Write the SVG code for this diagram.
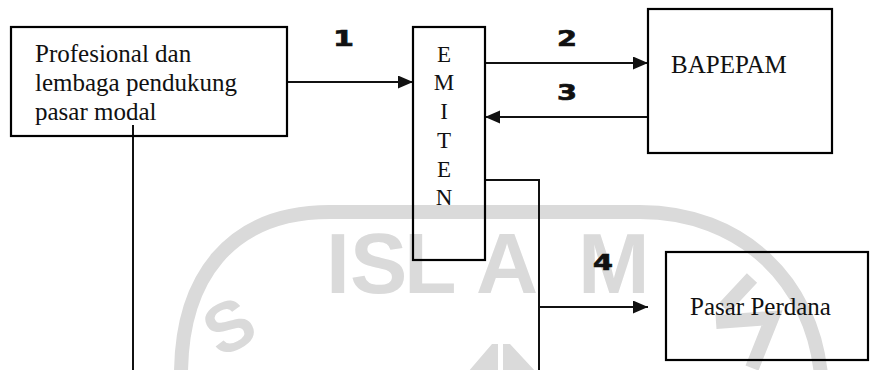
<svg xmlns="http://www.w3.org/2000/svg" width="870" height="370" viewBox="0 0 870 370">
<style>
.box{fill:none;stroke:#000;stroke-width:2.2}
.ln{fill:none;stroke:#111;stroke-width:2}
.t{font-family:"Liberation Serif","Times New Roman",serif;font-size:25px;fill:#111}
.v{font-family:"Liberation Serif","Times New Roman",serif;font-size:23px;fill:#111;text-anchor:middle}
.n{font-family:"DejaVu Sans",sans-serif;font-weight:bold;font-size:22px;fill:#111;stroke:#111;stroke-width:0.7}
.wm{fill:none;stroke:#dadada;stroke-width:14}
.wt{font-family:"Liberation Sans",Arial,sans-serif;font-weight:bold;fill:#dadada}
</style>
<defs>
<marker id="ah" markerUnits="userSpaceOnUse" markerWidth="16" markerHeight="14" refX="15" refY="6.5" orient="auto">
<path d="M0,0 L15,6.5 L0,13 Z" fill="#111"/>
</marker>
</defs>
<rect width="870" height="370" fill="#fff"/>
<g id="watermark">
<path class="wm" d="M 181 375 C 181 280 228 212 330 212 L 640 212 C 742 212 812 282 821 375"/>
<text class="wt" x="326 350 404 476 578" y="293" font-size="86">ISLAM</text>
<text class="wt" x="230" y="350" font-size="70" text-anchor="middle" transform="rotate(-28 230 328)">S</text>
<path class="wm" d="M 752 278 L 724 308 M 716 322 L 772 318 L 752 368"/>
<path d="M 468 372 L 492 344 L 498 344 L 498 372 Z M 503 344 L 510 344 L 536 372 L 503 372 Z" fill="#dadada"/>
</g>
<g id="connectors">
<line class="ln" x1="287" y1="82" x2="413" y2="82" marker-end="url(#ah)"/>
<line class="ln" x1="485" y1="63" x2="648" y2="63" marker-end="url(#ah)"/>
<line class="ln" x1="648" y1="117" x2="485" y2="117" marker-end="url(#ah)"/>
<polyline class="ln" points="485,180 539,180 539,372"/>
<line class="ln" x1="539" y1="307" x2="648" y2="307" marker-end="url(#ah)"/>
<line class="ln" x1="133" y1="125" x2="133" y2="372"/>
<text class="n" x="333" y="46" textLength="21" lengthAdjust="spacingAndGlyphs">1</text>
<text class="n" x="557" y="46" textLength="20" lengthAdjust="spacingAndGlyphs">2</text>
<text class="n" x="557" y="100" textLength="20" lengthAdjust="spacingAndGlyphs">3</text>
<text class="n" x="593" y="270" textLength="20" lengthAdjust="spacingAndGlyphs">4</text>
</g>
<g id="profesional">
<rect class="box" x="11" y="27" width="276" height="109"/>
<text class="t" x="35" y="62">Profesional dan</text>
<text class="t" x="35" y="91">lembaga pendukung</text>
<text class="t" x="35" y="120">pasar modal</text>
</g>
<g id="emiten">
<rect class="box" x="413" y="27" width="72" height="233"/>
<text class="v" x="444" y="62">E</text>
<text class="v" x="444" y="90">M</text>
<text class="v" x="444" y="119">I</text>
<text class="v" x="444" y="148">T</text>
<text class="v" x="444" y="177">E</text>
<text class="v" x="444" y="205">N</text>
</g>
<g id="bapepam">
<rect class="box" x="648" y="9" width="184" height="144"/>
<text class="t" x="671" y="73">BAPEPAM</text>
</g>
<g id="pasar-perdana">
<rect class="box" x="666" y="252" width="202" height="108"/>
<text class="t" x="690" y="315">Pasar Perdana</text>
</g>
</svg>
